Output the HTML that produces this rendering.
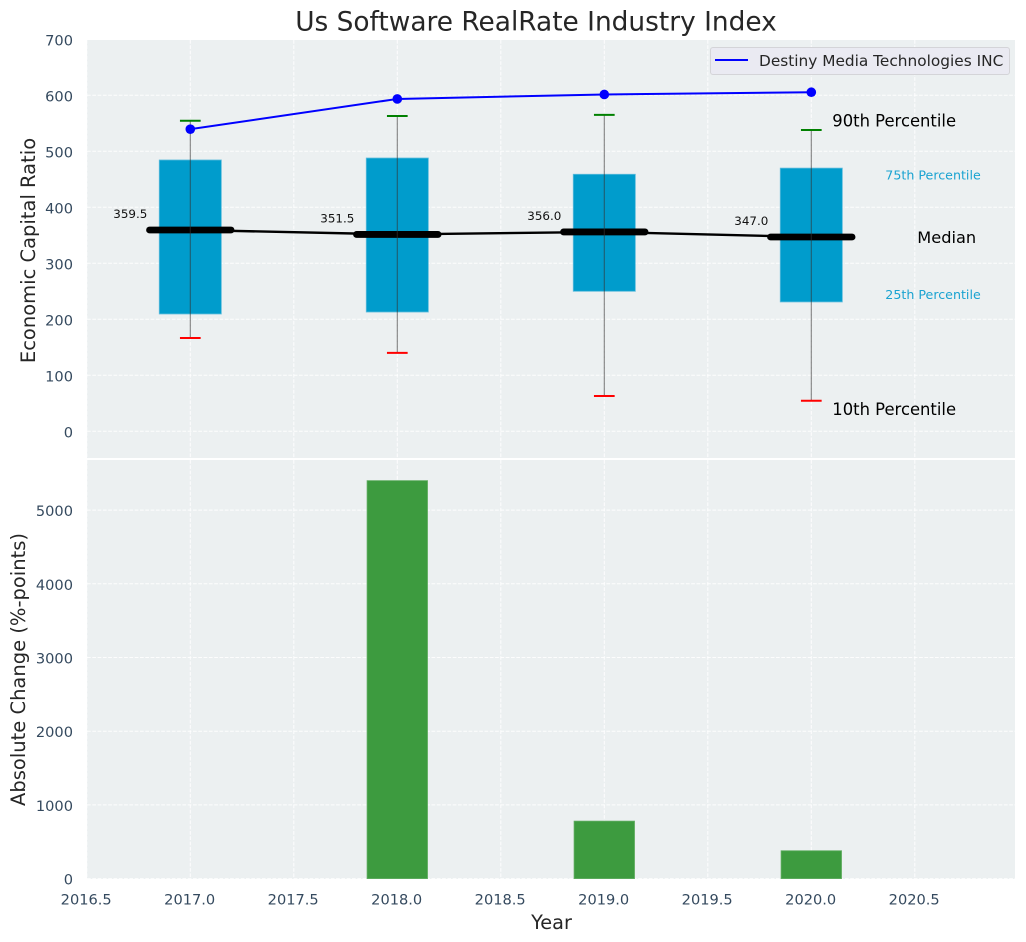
<!DOCTYPE html>
<html lang="en">
<head>
<meta charset="utf-8">
<title>Us Software RealRate Industry Index</title>
<style>
html,body{margin:0;padding:0;background:#fff;}
svg{display:block;}
text{font-family:"DejaVu Sans","Liberation Sans",sans-serif;}
</style>
</head>
<body>
<svg id="chart" xmlns="http://www.w3.org/2000/svg" width="1026" height="942" viewBox="0 0 1026 942"></svg>
<script>
const years = [2017, 2018, 2019, 2020];
const p10 = [166.5, 140, 63, 54.5];
const p25 = [209.5, 213, 250, 231];
const medians = [359.5, 351.5, 356.0, 347.0];
const p75 = [484.5, 488, 459, 470];
const p90 = [554.5, 563, 565, 538];
const companyValues = [539.5, 593.5, 601.5, 605.5];
const changeValues = [0, 5400, 780, 378];
const xTicks = [2016.5, 2017.0, 2017.5, 2018.0, 2018.5, 2019.0, 2019.5, 2020.0, 2020.5];
const topYTicks = [0, 100, 200, 300, 400, 500, 600, 700];
const bottomYTicks = [0, 1000, 2000, 3000, 4000, 5000];
const legendLabel = 'Destiny Media Technologies INC';

const NS = 'http://www.w3.org/2000/svg';
const svg = document.getElementById('chart');
const LEFT = 87, RIGHT = 1015, TOP1 = 40, BOT1 = 458, TOP2 = 460, BOT2 = 879;
const x = v => 190.3 + (v - 2017) * 207;
const y1 = v => 431.3 - v * 0.56;
const y2 = v => 878.6 - v * 0.0737;
const BOX_HALF = 0.15, BAR_HALF = 0.146, MED_HALF = 0.197, CAP_HALF = 0.05;

function mk(tag, attrs, parent) {
  const el = document.createElementNS(NS, tag);
  for (const k in attrs) el.setAttribute(k, attrs[k]);
  (parent || svg).appendChild(el);
  return el;
}
function label(str, px, py, size, fill, anchor, parent) {
  const t = mk('text', {x: px, y: py, 'font-size': size, fill: fill, 'text-anchor': anchor || 'start'}, parent);
  t.textContent = str;
  return t;
}

const TICK = '#34495e', DARK = '#262626';

/* backgrounds */
const bg1 = mk('rect', {x: LEFT, y: TOP1, width: RIGHT - LEFT, height: BOT1 - TOP1, fill: '#ecf0f1'});


const bg2 = mk('rect', {x: LEFT, y: TOP2, width: RIGHT - LEFT, height: BOT2 - TOP2, fill: '#ecf0f1'});



/* grid */
xTicks.forEach(v => {
  [[TOP1, BOT1], [TOP2, BOT2]].forEach(r => {
    const g = mk('line', {x1: x(v), x2: x(v), y1: r[0], y2: r[1], stroke: '#fff', 'stroke-width': 1, 'stroke-dasharray': '3.7,1.6', opacity: 0.9});
    
    
  });
});
topYTicks.forEach(v => {
  const g = mk('line', {x1: LEFT, x2: RIGHT, y1: y1(v), y2: y1(v), stroke: '#fff', 'stroke-width': 1, 'stroke-dasharray': '3.7,1.6', opacity: 0.9});
  
  
  const t = label(String(v), 73, y1(v) + 6, 14.6, TICK, 'end');
  
  
});
bottomYTicks.forEach(v => {
  const g = mk('line', {x1: LEFT, x2: RIGHT, y1: y2(v), y2: y2(v), stroke: '#fff', 'stroke-width': 1, 'stroke-dasharray': '3.7,1.6', opacity: 0.9});
  
  
  const t = label(String(v), 73, y2(v) + 6, 14.6, TICK, 'end');
  
  
});
xTicks.forEach(v => {
  const t = label(v.toFixed(1), x(v) - 0.6, 904.5, 14.6, TICK, 'middle');
  
  
});

/* bottom bars */
years.forEach((yr, i) => {
  if (!changeValues[i]) return;
  const b = mk('rect', {x: x(yr - BAR_HALF), y: y2(changeValues[i]), width: x(yr + BAR_HALF) - x(yr - BAR_HALF), height: y2(0) - y2(changeValues[i]), fill: '#3d9b3f', stroke: '#62ad63', 'stroke-width': 0.8});
  
  
});

/* boxes */
years.forEach((yr, i) => {
  const b = mk('rect', {x: x(yr - BOX_HALF), y: y1(p75[i]), width: x(yr + BOX_HALF) - x(yr - BOX_HALF), height: y1(p25[i]) - y1(p75[i]), fill: '#009ccc', stroke: '#5fbcdc', 'stroke-width': 0.8});
  
  
});

/* median connector */
const medLine = mk('polyline', {points: years.map((yr, i) => x(yr) + ',' + y1(medians[i])).join(' '), fill: 'none', stroke: '#000', 'stroke-width': 2.4});



years.forEach((yr, i) => {
  const m = mk('line', {x1: x(yr - MED_HALF), x2: x(yr + MED_HALF), y1: y1(medians[i]), y2: y1(medians[i]), stroke: '#000', 'stroke-width': 6.8, 'stroke-linecap': 'round'});
  
  
  const w = mk('line', {x1: x(yr), x2: x(yr), y1: y1(p90[i]), y2: y1(p10[i]), stroke: '#333', 'stroke-width': 1.1, opacity: 0.6});
  
  
  const c90 = mk('line', {x1: x(yr - CAP_HALF), x2: x(yr + CAP_HALF), y1: y1(p90[i]), y2: y1(p90[i]), stroke: 'green', 'stroke-width': 2});
  
  
  const c10 = mk('line', {x1: x(yr - CAP_HALF), x2: x(yr + CAP_HALF), y1: y1(p10[i]), y2: y1(p10[i]), stroke: 'red', 'stroke-width': 2});
  
  
  const t = label(medians[i].toFixed(1), x(yr) - 43, y1(medians[i]) - 12, 11.9, '#111', 'end');
  
  
});

/* company line */
const compLine = mk('polyline', {points: years.map((yr, i) => x(yr) + ',' + y1(companyValues[i])).join(' '), fill: 'none', stroke: '#0000ff', 'stroke-width': 2});


years.forEach((yr, i) => {
  const d = mk('circle', {cx: x(yr), cy: y1(companyValues[i]), r: 4.8, fill: '#0000ff'});
  
  
});

/* percentile annotations anchored to the last box */
const last = years.length - 1, lx = x(years[last]);
const a90 = label('90th Percentile', lx + 21, y1(p90[last]) - 3.3, 16.4, '#000');


const a75 = label('75th Percentile', lx + 74, y1(p75[last]) + 11.2, 12.65, '#1aa3d1');


const aMed = label('Median', lx + 106, y1(medians[last]) + 6, 16.2, '#000');


const a25 = label('25th Percentile', lx + 74, y1(p25[last]) - 3, 12.65, '#1aa3d1');


const a10 = label('10th Percentile', lx + 21, y1(p10[last]) + 14, 16.4, '#000');



/* legend */
const legend = mk('g', {});


const legBox = mk('rect', {x: 710.5, y: 47.5, width: 299, height: 27, rx: 2.5, fill: '#eaeaf2', stroke: '#d4d4d8', 'stroke-width': 1}, legend);


const legLine = mk('line', {x1: 715, x2: 748, y1: 60, y2: 60, stroke: '#0000ff', 'stroke-width': 2}, legend);


const legText = label(legendLabel, 759, 66, 15.35, DARK, 'start', legend);



/* titles */
const title = label('Us Software RealRate Industry Index', 536, 30.5, 26.4, DARK, 'middle');


const xTitle = label('Year', 551.5, 929, 19.3, DARK, 'middle');


const yTop = label('Economic Capital Ratio', 0, 0, 0, DARK, 'middle');
yTop.setAttribute('font-size', '19.5');
yTop.setAttribute('transform', 'translate(35,250.5) rotate(-90)');


const yBot = label('Absolute Change (%-points)', 0, 0, 0, DARK, 'middle');
yBot.setAttribute('font-size', '19.5');
yBot.setAttribute('transform', 'translate(25,669.5) rotate(-90)');


</script>
</body>
</html>
